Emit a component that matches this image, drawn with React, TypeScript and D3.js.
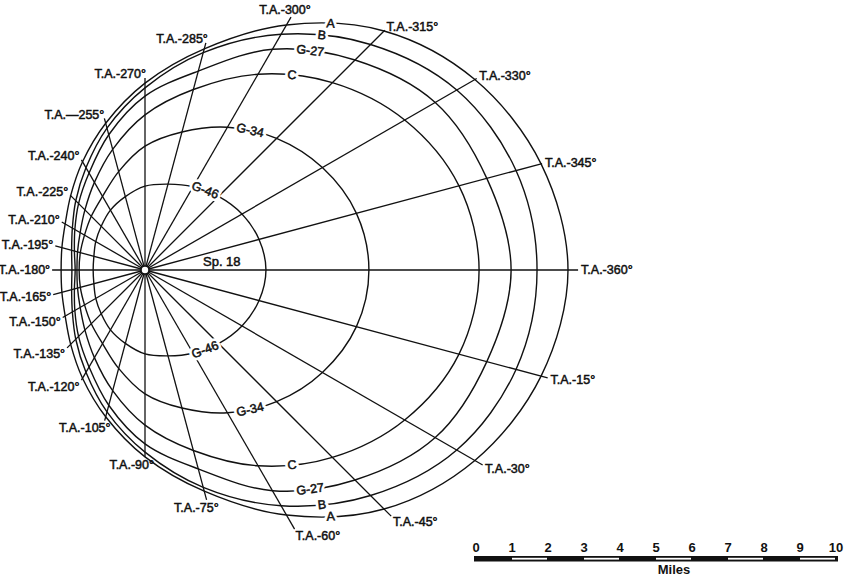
import React from 'react';
import * as d3 from 'd3';

// Track angles (T.A.) in order, starting at the right and going counter-clockwise
const trackAngles = [360, 345, 330, 315, 300, 285, 270, 255, 240, 225, 210, 195, 180, 165, 150, 135, 120, 105, 90, 75, 60, 45, 30, 15];
const trackLabels = [
  'T.A.-360°', 'T.A.-345°', 'T.A.-330°', 'T.A.-315°', 'T.A.-300°', 'T.A.-285°', 'T.A.-270°', 'T.A.—255°',
  'T.A.-240°', 'T.A.-225°', 'T.A.-210°', 'T.A.-195°', 'T.A.-180°', 'T.A.-165°', 'T.A.-150°', 'T.A.-135°',
  'T.A.-120°', 'T.A.-105°', 'T.A.-90°', 'T.A.-75°', 'T.A.-60°', 'T.A.-45°', 'T.A.-30°', 'T.A.-15°',
];
// Length of each track-angle line (miles)
const rayLength = [12.03, 11.42, 10.64, 9.42, 8.11, 6.53, 5.33, 4.36, 3.53, 2.94, 2.67, 2.58, 2.58, 2.64, 2.64, 3.06, 3.53, 4.33, 5.19, 6.61, 8.31, 9.67, 10.83, 11.58];

// Range curves (miles along each track angle)
const curveNames = ['A', 'B', 'G-27', 'C', 'G-34', 'G-46'];
const rangeA = [11.75, 11.39, 10.58, 9.39, 7.86, 6.36, 5.19, 4.22, 3.47, 2.92, 2.56, 2.39, 2.33, 2.39, 2.56, 2.92, 3.47, 4.22, 5.19, 6.36, 7.86, 9.39, 10.58, 11.39];
const rangeB = [10.89, 10.67, 10.0, 8.86, 7.56, 6.25, 5.06, 4.08, 3.28, 2.72, 2.33, 2.11, 2.03, 2.11, 2.33, 2.72, 3.28, 4.08, 5.06, 6.25, 7.56, 8.86, 10.0, 10.67];
const rangeG27 = [10.17, 9.83, 9.31, 8.25, 7.08, 5.72, 4.83, 3.89, 3.11, 2.61, 2.25, 2.03, 1.94, 2.03, 2.25, 2.61, 3.11, 3.89, 4.83, 5.72, 7.08, 8.25, 9.31, 9.83];
const rangeC = [9.28, 9.03, 8.33, 7.36, 6.28, 5.19, 4.31, 3.47, 2.81, 2.36, 2.08, 1.94, 1.89, 1.94, 2.08, 2.36, 2.81, 3.47, 4.31, 5.19, 6.28, 7.36, 8.33, 9.03];
const rangeG34 = [6.22, 6.08, 5.69, 5.17, 4.58, 3.97, 3.44, 2.83, 2.36, 2.11, 1.94, 1.86, 1.83, 1.86, 1.94, 2.11, 2.36, 2.83, 3.44, 3.97, 4.58, 5.17, 5.69, 6.08];
const rangeG46 = [3.36, 3.28, 3.11, 2.89, 2.67, 2.47, 2.33, 2.11, 1.92, 1.72, 1.58, 1.47, 1.44, 1.47, 1.58, 1.72, 1.92, 2.11, 2.33, 2.47, 2.67, 2.89, 3.11, 3.28];
const curveRanges = [rangeA, rangeB, rangeG27, rangeC, rangeG34, rangeG46];

const centerLabel = 'Sp. 18';
const scaleTicks = [0, 1, 2, 3, 4, 5, 6, 7, 8, 9, 10];
const scaleTitle = 'Miles';

const W = 858;
const H = 576;
const cx = 145;
const cy = 270;
const FONT = '"Liberation Sans", Arial, Helvetica, sans-serif';

const rScale = d3.scaleLinear().domain([0, 10]).range([0, 360]);
const barScale = d3.scaleLinear().domain([0, 10]).range([476, 836]);

const screenAngle = (ta: number) => ((360 - ta) % 360);
const toXY = (phiDeg: number, miles: number) => {
  const p = (phiDeg * Math.PI) / 180;
  const r = rScale(miles);
  return [cx + r * Math.cos(p), cy - r * Math.sin(p)];
};

const radial = d3
  .lineRadial<number>()
  .angle((_, i) => ((trackAngles[i] - 270) * Math.PI) / 180)
  .radius((d) => rScale(d))
  .curve(d3.curveCatmullRomClosed.alpha(0.5));

function labelPlacement(phi: number) {
  const p = (phi * Math.PI) / 180;
  const c = Math.cos(p);
  const s = Math.sin(p);
  if (phi === 60) return { anchor: 'middle', dx: -6, dy: -3 };
  let anchor = 'end';
  let dx = -2;
  if (c > 0.3) {
    anchor = 'start';
    dx = 4 * c - 1;
  } else if (Math.abs(c) <= 0.3) {
    anchor = 'end';
    dx = s < 0 ? 9 + 12 * c : 1 + 4 * c;
  }
  const dy = s >= -0.01 ? 4 - 4 * s : 4 + 8 * Math.abs(s);
  return { anchor, dx, dy };
}

function curveLabel(values: number[], upper: boolean) {
  const i45 = upper ? 3 : 21;
  const i60 = upper ? 4 : 20;
  const phi45 = screenAngle(trackAngles[i45]);
  const phi60 = screenAngle(trackAngles[i60]);
  const t = 8 / 15;
  const r = values[i45] + (values[i60] - values[i45]) * t;
  const phi = phi45 + (phi60 - phi45) * t;
  const [x, y] = toXY(phi, r);
  const [x1, y1] = toXY(phi45, values[i45]);
  const [x2, y2] = toXY(phi60, values[i60]);
  const rot = (Math.atan2(y1 - y2, x1 - x2) * 180) / Math.PI;
  return { x, y, rot };
}

export default function App() {
  return (
    <svg
      width={W}
      height={H}
      viewBox={`0 0 ${W} ${H}`}
      style={{ position: 'absolute', left: 0, top: 0, background: '#fff' }}
      fontFamily={FONT}
    >
      <rect x={0} y={0} width={W} height={H} fill="#fff" />
      {/* track-angle lines */}
      <g stroke="#111" strokeWidth={1.3}>
        {trackAngles.map((ta, i) => {
          const [x, y] = toXY(screenAngle(ta), rayLength[i]);
          return <line key={ta} x1={cx} y1={cy} x2={x} y2={y} />;
        })}
      </g>
      {/* range curves */}
      <g fill="none" stroke="#111" strokeWidth={1.4}>
        {curveRanges.map((vals, k) => (
          <path key={curveNames[k]} d={radial(vals) || ''} transform={`translate(${cx},${cy})`} />
        ))}
      </g>
      {/* curve labels */}
      <g fontSize={12.5} textAnchor="middle" dominantBaseline="central">
        {curveRanges.map((vals, k) =>
          [true, false].map((up) => {
            const { x, y, rot } = curveLabel(vals, up);
            return (
              <g key={curveNames[k] + up} transform={`translate(${x},${y}) rotate(${rot})`}>
                <text stroke="#fff" strokeWidth={6} fill="#fff" strokeLinejoin="round">
                  {curveNames[k]}
                </text>
                <text fill="#111" stroke="#111" strokeWidth={0.5}>
                  {curveNames[k]}
                </text>
              </g>
            );
          })
        )}
      </g>
      {/* track-angle labels */}
      <g fontSize={12.5} fill="#111" stroke="#111" strokeWidth={0.5}>
        {trackAngles.map((ta, i) => {
          const phi = screenAngle(ta);
          const [x, y] = toXY(phi, rayLength[i]);
          const { anchor, dx, dy } = labelPlacement(phi);
          return (
            <text key={ta} x={x + dx} y={y + dy} textAnchor={anchor as any}>
              {trackLabels[i]}
            </text>
          );
        })}
      </g>
      {/* center hub */}
      <circle cx={cx} cy={cy} r={4} fill="#fff" stroke="#111" strokeWidth={1.6} />
      <text x={cx + 58} y={cy - 4} fontSize={13} fill="#111" stroke="#111" strokeWidth={0.5}>
        {centerLabel}
      </text>
      {/* scale bar */}
      <g>
        <rect x={barScale(0) - 2} y={556} width={barScale(10) - barScale(0) + 4} height={5.5} fill="#111" />
        {scaleTicks.slice(0, -1).filter((t) => t % 2 === 1).map((t) => (
          <rect key={t} x={barScale(t)} y={557.8} width={barScale(t + 1) - barScale(t) - 1} height={1.8} fill="#fff" />
        ))}
        {scaleTicks.map((t) => (
          <text key={t} x={barScale(t)} y={552} textAnchor="middle" fontSize={13} fontWeight="bold" fill="#111">
            {t}
          </text>
        ))}
        <text x={barScale(5.5)} y={574} textAnchor="middle" fontSize={13} fontWeight="bold" fill="#111">
          {scaleTitle}
        </text>
      </g>
    </svg>
  );
}
